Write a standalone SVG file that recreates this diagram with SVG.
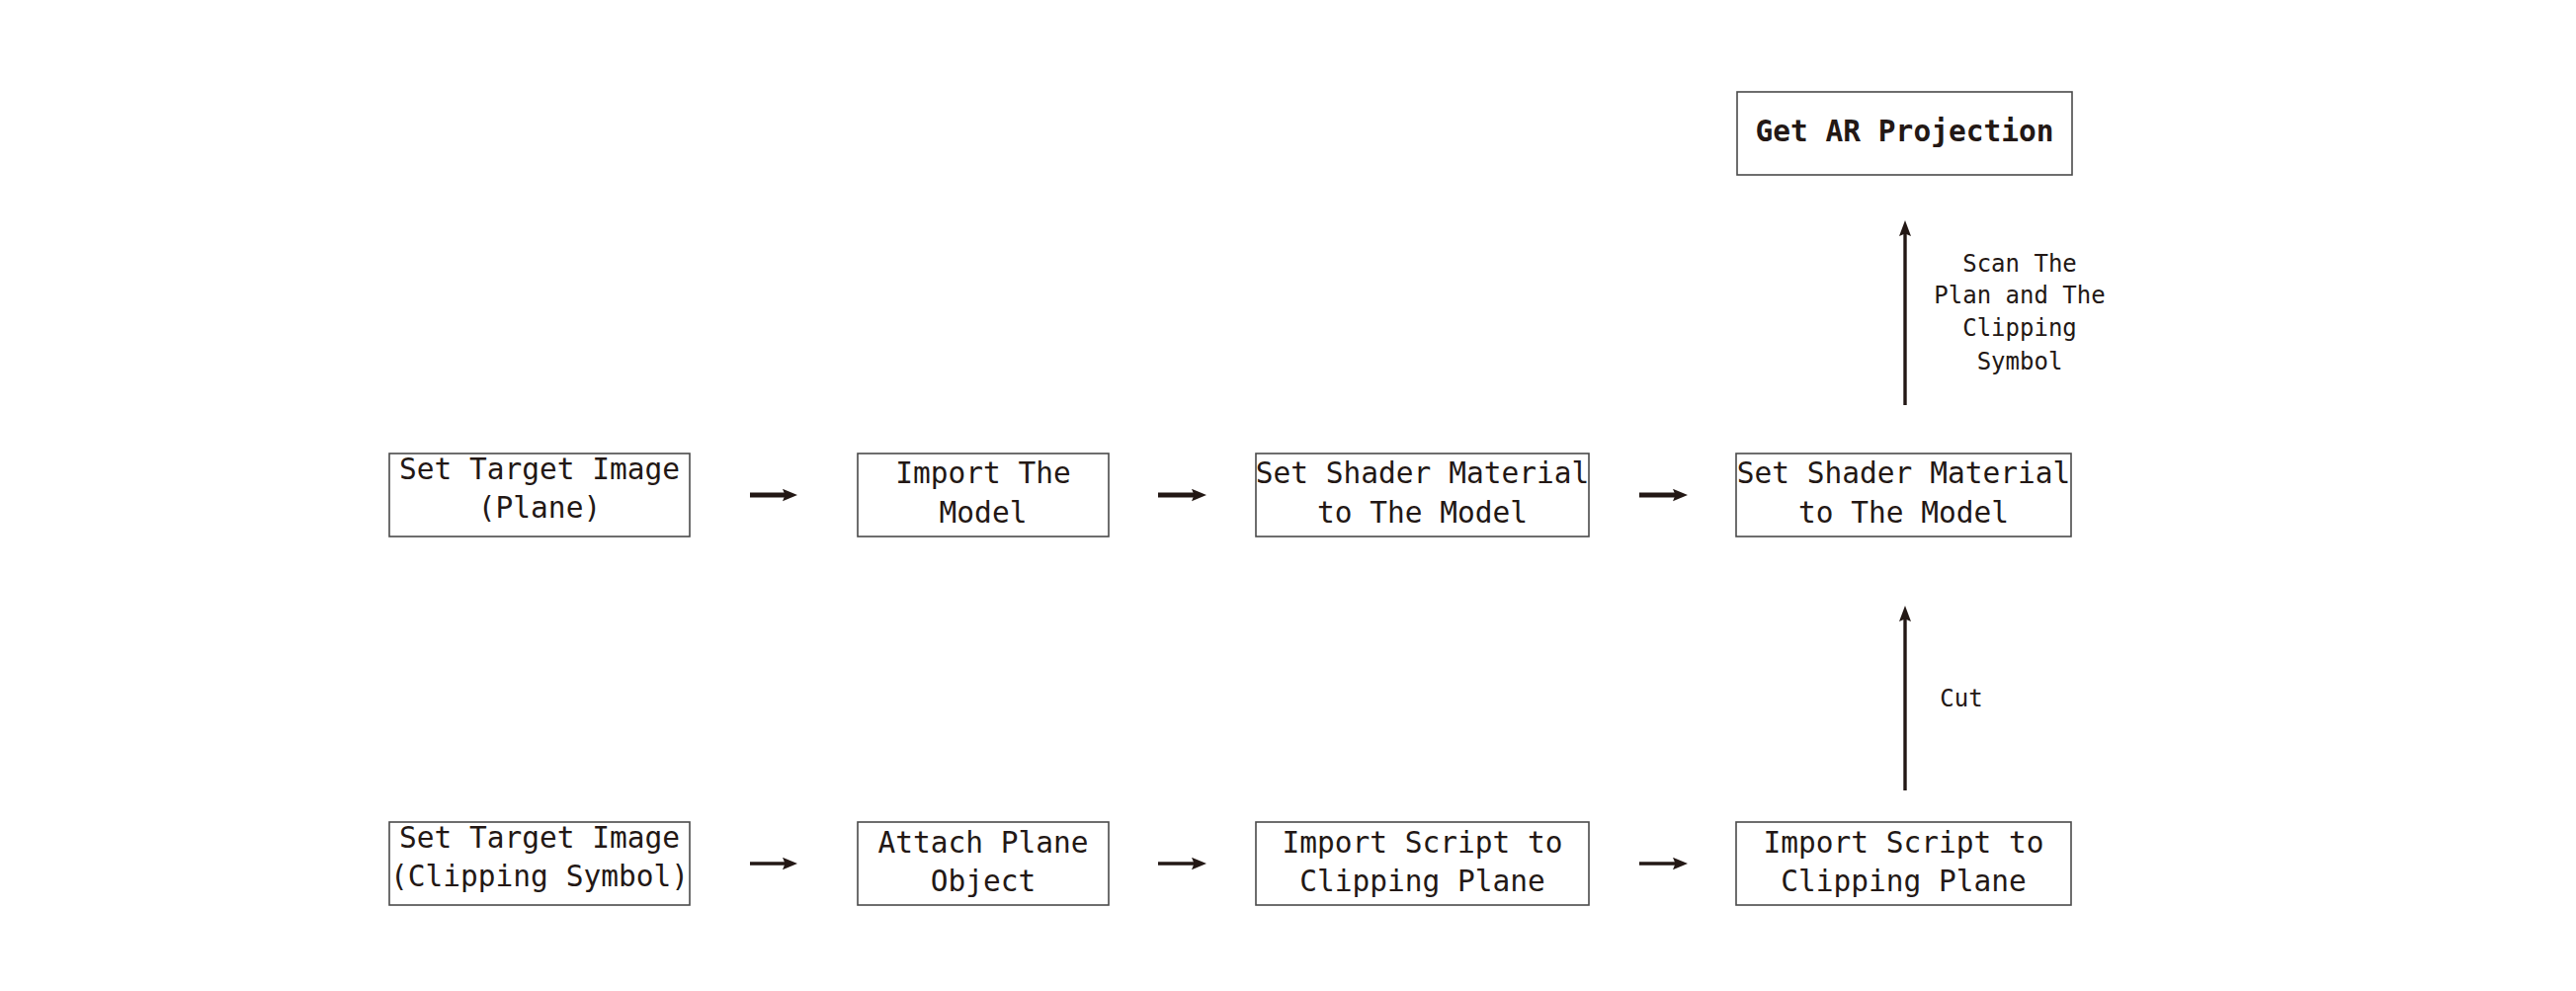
<svg xmlns="http://www.w3.org/2000/svg" width="2607" height="1003" viewBox="0 0 2607 1003">
<style>
.box{fill:#fff;stroke:#4a4a4a;stroke-width:1.6}
.t{font-family:"DejaVu Sans Mono","Liberation Mono",monospace;font-size:29.5px;fill:#231815;text-anchor:middle}
.b{font-weight:bold}
.lbl{font-family:"DejaVu Sans Mono","Liberation Mono",monospace;font-size:24px;fill:#231815;text-anchor:middle}
.a1{stroke:#231815;stroke-width:5;fill:none}
.a2{stroke:#231815;stroke-width:3.4;fill:none}
</style>
<defs>
<marker id="h1" markerUnits="userSpaceOnUse" markerWidth="16" markerHeight="13" refX="3" refY="6.2" orient="auto">
<path d="M0,0 L15,6.2 L0,12.4 L2.5,6.2 z" fill="#231815"/>
</marker>
<marker id="h2" markerUnits="userSpaceOnUse" markerWidth="17" markerHeight="13" refX="3" refY="6" orient="auto">
<path d="M0,0 L16,6 L0,12 L2.5,6 z" fill="#231815"/>
</marker>
</defs>
<rect width="2607" height="1003" fill="#fff"/>
<g id="connectors">
<line class="a1" x1="759" y1="501" x2="795" y2="501" marker-end="url(#h1)"/>
<line class="a1" x1="1172" y1="501" x2="1209" y2="501" marker-end="url(#h1)"/>
<line class="a1" x1="1659" y1="501" x2="1696" y2="501" marker-end="url(#h1)"/>
<line class="a2" x1="759" y1="874" x2="795" y2="874" marker-end="url(#h1)"/>
<line class="a2" x1="1172" y1="874" x2="1209" y2="874" marker-end="url(#h1)"/>
<line class="a2" x1="1659" y1="874" x2="1696" y2="874" marker-end="url(#h1)"/>
<line class="a2" x1="1928" y1="410" x2="1928" y2="236" marker-end="url(#h2)"/>
<line class="a2" x1="1928" y1="800" x2="1928" y2="626" marker-end="url(#h2)"/>
<text class="lbl" x="2044" y="275">Scan The</text>
<text class="lbl" x="2044" y="307">Plan and The</text>
<text class="lbl" x="2044" y="340">Clipping</text>
<text class="lbl" x="2044" y="374">Symbol</text>
<text class="lbl" x="1985" y="715">Cut</text>
</g>
<g id="n_top">
<rect class="box" x="1758" y="93" width="339" height="84"/>
<text class="t b" x="1927.5" y="143">Get AR Projection</text>
</g>
<g id="n_r1_1">
<rect class="box" x="394" y="459" width="304" height="84"/>
<text class="t" x="546" y="485">Set Target Image</text>
<text class="t" x="546" y="524">(Plane)</text>
</g>
<g id="n_r1_2">
<rect class="box" x="868" y="459" width="254" height="84"/>
<text class="t" x="995" y="489">Import The</text>
<text class="t" x="995" y="529">Model</text>
</g>
<g id="n_r1_3">
<rect class="box" x="1271" y="459" width="337" height="84"/>
<text class="t" x="1439.5" y="489">Set Shader Material</text>
<text class="t" x="1439.5" y="529">to The Model</text>
</g>
<g id="n_r1_4">
<rect class="box" x="1757" y="459" width="339" height="84"/>
<text class="t" x="1926.5" y="489">Set Shader Material</text>
<text class="t" x="1926.5" y="529">to The Model</text>
</g>
<g id="n_r2_1">
<rect class="box" x="394" y="832" width="304" height="84"/>
<text class="t" x="546" y="858">Set Target Image</text>
<text class="t" x="546" y="897">(Clipping Symbol)</text>
</g>
<g id="n_r2_2">
<rect class="box" x="868" y="832" width="254" height="84"/>
<text class="t" x="995" y="863">Attach Plane</text>
<text class="t" x="995" y="902">Object</text>
</g>
<g id="n_r2_3">
<rect class="box" x="1271" y="832" width="337" height="84"/>
<text class="t" x="1439.5" y="863">Import Script to</text>
<text class="t" x="1439.5" y="902">Clipping Plane</text>
</g>
<g id="n_r2_4">
<rect class="box" x="1757" y="832" width="339" height="84"/>
<text class="t" x="1926.5" y="863">Import Script to</text>
<text class="t" x="1926.5" y="902">Clipping Plane</text>
</g>
</svg>
